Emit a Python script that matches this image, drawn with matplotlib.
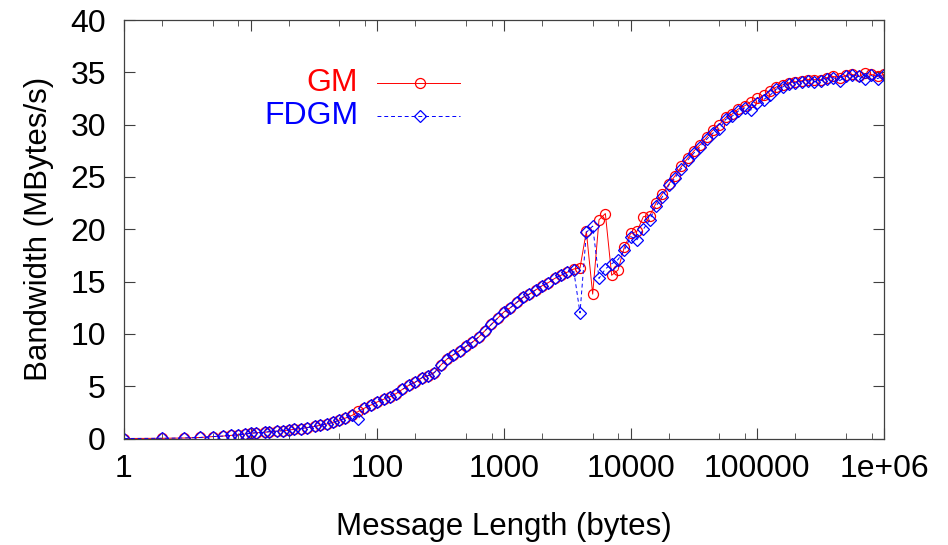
import matplotlib
matplotlib.use("Agg")
import matplotlib.pyplot as plt
from matplotlib.ticker import LogLocator, NullFormatter

plt.rcParams['font.family'] = ['Liberation Sans', 'DejaVu Sans']

# message sizes (bytes)
msg_len = [1, 2, 3, 4, 5, 6, 7, 8, 9,
           10, 11, 13, 14, 16, 18, 20, 22, 25, 28,
           32, 35, 40, 45, 50, 56, 63, 71, 79, 89,
           100, 112, 126, 141, 158, 178, 200, 224, 251, 282,
           316, 355, 398, 447, 501, 562, 631, 708, 794, 891,
           1000, 1122, 1259, 1413, 1585, 1778, 1995, 2239, 2512, 2818,
           3162, 3548, 3981, 4467, 5012, 5623, 6310, 7079, 7943, 8913,
           10000, 11220, 12589, 14125, 15849, 17783, 19953, 22387, 25119, 28184,
           31623, 35481, 39811, 44668, 50119, 56234, 63096, 70795, 79433, 89125,
           100000, 112202, 125893, 141254, 158489, 177828, 199526, 223872, 251189, 281838,
           316228, 354813, 398107, 446684, 501187, 562341, 630957, 707946, 794328, 891251,
           1000000]

# bandwidth (MBytes/s)
gm = [0.0, 0.02, 0.05, 0.1, 0.18, 0.23, 0.3, 0.36, 0.42,
      0.5, 0.55, 0.6, 0.65, 0.7, 0.75, 0.8, 0.88, 0.95, 1.05,
      1.15, 1.25, 1.4, 1.55, 1.75, 1.95, 2.2, 2.6, 2.9, 3.2,
      3.5, 3.75, 4.0, 4.3, 4.7, 5.1, 5.4, 5.8, 6.0, 6.3,
      7.0, 7.6, 8.0, 8.4, 8.8, 9.2, 9.7, 10.3, 10.9, 11.5,
      12.1, 12.5, 13.0, 13.5, 13.8, 14.2, 14.6, 14.9, 15.3, 15.6,
      15.9, 16.2, 16.3, 19.8, 13.8, 20.9, 21.5, 15.6, 16.1, 18.3,
      19.6, 19.8, 21.2, 21.3, 22.5, 23.4, 24.3, 25.1, 26.0, 26.8,
      27.5, 28.1, 28.8, 29.5, 30.0, 30.7, 31.0, 31.5, 31.8, 32.2,
      32.5, 32.8, 33.2, 33.6, 33.8, 34.0, 34.1, 34.2, 34.3, 34.3,
      34.3, 34.5, 34.6, 34.5, 34.7, 34.8, 34.6, 34.9, 34.8, 34.6,
      34.8]

fdgm = [0.0, 0.02, 0.05, 0.1, 0.18, 0.23, 0.3, 0.36, 0.42,
        0.5, 0.55, 0.6, 0.65, 0.7, 0.75, 0.8, 0.88, 0.95, 1.05,
        1.15, 1.25, 1.4, 1.55, 1.75, 1.95, 2.2, 1.9, 2.9, 3.2,
        3.5, 3.75, 4.0, 4.3, 4.7, 5.1, 5.4, 5.8, 6.0, 6.3,
        7.0, 7.6, 8.0, 8.4, 8.8, 9.2, 9.7, 10.3, 10.9, 11.5,
        12.1, 12.5, 13.0, 13.5, 13.8, 14.2, 14.6, 14.9, 15.3, 15.6,
        15.9, 16.1, 12.0, 19.7, 20.3, 15.3, 16.2, 16.7, 17.1, 18.0,
        19.3, 19.0, 20.0, 20.9, 22.2, 23.1, 24.2, 24.9, 25.8, 26.6,
        27.3, 27.9, 28.6, 29.2, 29.6, 30.5, 30.8, 31.3, 31.6, 31.4,
        32.1, 32.4, 32.8, 33.4, 33.6, 33.9, 34.0, 34.1, 34.2, 34.1,
        34.2, 34.4, 34.5, 34.2, 34.6, 34.7, 34.6, 34.4, 34.7, 34.4,
        34.7]

xticks = [1, 10, 100, 1000, 10000, 100000, 1000000]
xtick_labels = ['1', '10', '100', '1000', '10000', '100000', '1e+06']
yticks = [0, 5, 10, 15, 20, 25, 30, 35, 40]

FS = 23

fig = plt.figure(figsize=(9.48, 5.45), dpi=100)
ax = fig.add_axes([0.1308, 0.1954, 0.8017, 0.7679])

ax.plot(msg_len, gm, color='#ff0000', lw=0.7, marker='o', ms=7.2,
        mfc='none', mec='#ff0000', mew=0.9)
ax.plot(msg_len, fdgm, color='#0000ff', lw=0.7, dashes=(4, 3),
        marker='D', ms=6.2, mfc='none', mec='#0000ff', mew=0.9)

ax.set_xscale('log')
ax.set_xlim(1, 1000000)
ax.set_ylim(0, 40)
ax.set_xticks(xticks)
ax.set_xticklabels(xtick_labels)
ax.xaxis.set_minor_locator(LogLocator(base=10, subs=[2, 5, 8]))
ax.xaxis.set_minor_formatter(NullFormatter())
ax.set_yticks(yticks)

ax.tick_params(which='both', direction='in', top=True, right=True,
               labelsize=FS, color='#404040')
ax.tick_params(axis='x', which='major', length=8, pad=11)
ax.tick_params(axis='x', which='minor', length=4.5)
ax.tick_params(axis='y', which='major', length=8, pad=13)
for s in ax.spines.values():
    s.set_color('#404040')
    s.set_linewidth(0.9)

ax.set_xlabel('Message Length (bytes)', fontsize=FS - 0.5, labelpad=20)
ax.set_ylabel('Bandwidth (MBytes/s)', fontsize=FS - 0.5, labelpad=12)

# gnuplot-style key: right aligned label, sample line with one marker
key = [('GM', '#ff0000', 'o', 7.2, None, 0.849),
       ('FDGM', '#0000ff', 'D', 6.2, (4, 3), 0.771)]
for label, col, mk, size, dash, ky in key:
    ax.text(0.308, ky, label, color=col, fontsize=FS, ha='right',
            va='center', transform=ax.transAxes)
    ln, = ax.plot([0.333, 0.389, 0.442], [ky, ky, ky], color=col, lw=0.7,
                  marker=mk, ms=size, mfc='none', mec=col, mew=0.9,
                  markevery=[1], transform=ax.transAxes, clip_on=False)
    if dash:
        ln.set_dashes(dash)

fig.savefig('out.png', dpi=100)
